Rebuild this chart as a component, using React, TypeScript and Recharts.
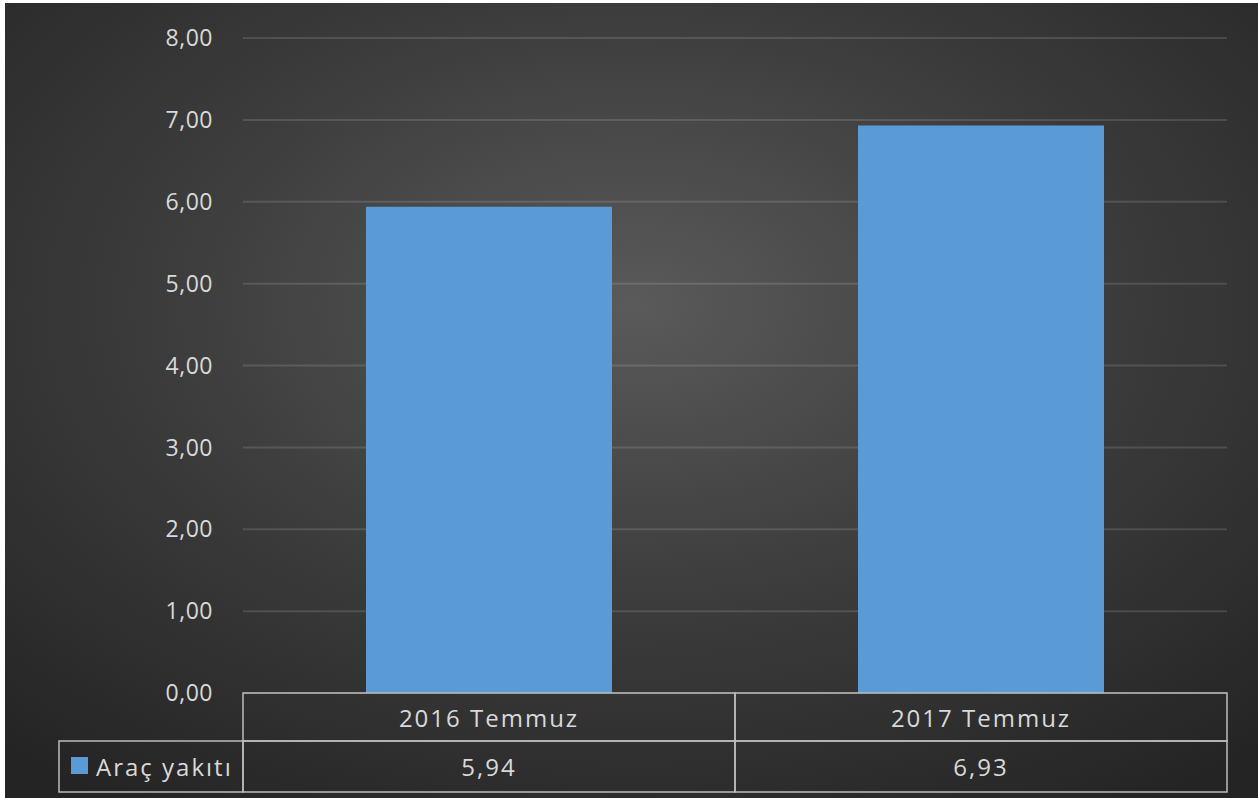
import React from 'react';
import { BarChart, Bar, XAxis, YAxis, CartesianGrid } from 'recharts';

const periods = ['2016 Temmuz', '2017 Temmuz'];
const fuelValues = [5.94, 6.93];
const seriesName = 'Araç yakıtı';
const yTicks = [0, 1, 2, 3, 4, 5, 6, 7, 8];

const data = periods.map((p, i) => ({ period: p, value: fuelValues[i] }));

const W = 1253;
const H = 795;
const margin = { top: 35, right: 31, left: 0, bottom: 6 };
const yAxisWidth = 238;
const plotWidth = W - margin.left - margin.right - yAxisWidth;
const band = plotWidth / periods.length;

const FONT = '"Open Sans", "Noto Sans", sans-serif';
const TEXT = '#d9d9d9';
const LINE = '#bcbcbc';
const BAR = '#5b9bd5';

const fmt = (v: number) => v.toFixed(2).replace('.', ',');

// data table under the plot, one column per category
function TableTick(props: any) {
  const { x, y, payload, index } = props;
  const left = x - band / 2;
  const row1 = 48;
  const row2 = 51;
  const legendW = 184;
  const txt = { fill: TEXT, fontSize: 24, fontFamily: FONT, letterSpacing: 2 };
  return (
    <g>
      <rect x={left} y={y} width={band} height={row1} fill="none" stroke={LINE} strokeWidth={1.5} />
      <rect x={left} y={y + row1} width={band} height={row2} fill="none" stroke={LINE} strokeWidth={1.5} />
      <text x={x} y={y + row1 / 2} textAnchor="middle" dominantBaseline="central" {...txt}>
        {payload.value}
      </text>
      <text x={x} y={y + row1 + row2 / 2} textAnchor="middle" dominantBaseline="central" {...txt}>
        {fmt(fuelValues[index])}
      </text>
      {index === 0 && (
        <g>
          <rect x={left - legendW} y={y + row1} width={legendW} height={row2} fill="none" stroke={LINE} strokeWidth={1.5} />
          <rect x={left - legendW + 12} y={y + row1 + 16} width={17} height={17} fill={BAR} />
          <text x={left - legendW + 37} y={y + row1 + row2 / 2} dominantBaseline="central" {...txt}>
            {seriesName}
          </text>
        </g>
      )}
    </g>
  );
}

export default function App() {
  return (
    <div style={{ position: 'absolute', left: 0, top: 0, width: 1258, height: 798, background: '#ffffff' }}>
      <div
        style={{
          position: 'absolute',
          left: 5,
          top: 3,
          width: W,
          height: H,
          background: 'radial-gradient(ellipse 75% 75% at 50% 38%, #5a5a5a 0%, #3c3c3c 50%, #242424 100%)',
        }}
      >
        <BarChart width={W} height={H} data={data} margin={margin} barCategoryGap="25%">
          <CartesianGrid horizontal vertical={false} stroke="rgba(255,255,255,0.13)" strokeWidth={2} />
          <XAxis
            dataKey="period"
            axisLine={false}
            tickLine={false}
            tickSize={0}
            tickMargin={0}
            height={99}
            interval={0}
            tick={<TableTick />}
          />
          <YAxis
            domain={[0, 8]}
            ticks={yTicks}
            width={yAxisWidth}
            axisLine={false}
            tickLine={false}
            tickSize={0}
            tickMargin={30}
            tickFormatter={fmt}
            tick={{ fill: TEXT, fontSize: 23, fontFamily: FONT, letterSpacing: 0.5 }}
          />
          <Bar dataKey="value" fill={BAR} isAnimationActive={false} />
        </BarChart>
      </div>
    </div>
  );
}
